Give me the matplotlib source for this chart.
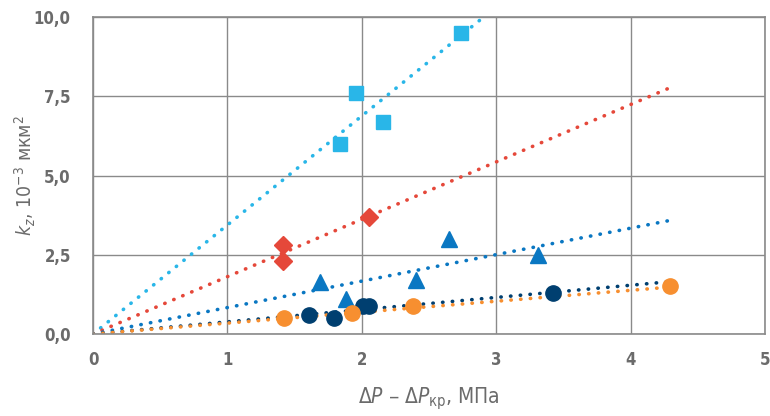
import numpy as np
import matplotlib.pyplot as plt

plt.rcParams['font.family'] = ['DejaVu Sans']
plt.rcParams['font.stretch'] = 'condensed'

# данные серий (ΔP - ΔPкр, kz)
sq_x = [1.84, 1.96, 2.16, 2.74]
sq_y = [6.0, 7.6, 6.7, 9.5]
dm_x = [1.41, 1.41, 2.05]
dm_y = [2.8, 2.3, 3.7]
tr_x = [1.69, 1.88, 2.40, 2.65, 3.31]
tr_y = [1.65, 1.1, 1.7, 3.0, 2.5]
nv_x = [1.61, 1.79, 2.01, 2.05, 3.42]
nv_y = [0.6, 0.5, 0.88, 0.88, 1.3]
or_x = [1.42, 1.93, 2.38, 4.29]
or_y = [0.5, 0.65, 0.87, 1.5]

# наклоны линий тренда (через 0) и их концы
slopes = [3.44, 1.81, 0.835, 0.385, 0.345]
ends = [3.0, 4.28, 4.28, 4.28, 4.28]

colors = ['#29b6e8', '#e5483a', '#0a77c2', '#003f70', '#f78f30']
markers = ['s', 'D', '^', 'o', 'o']
sizes = [10.5, 9, 11, 11, 11]
series = [(sq_x, sq_y), (dm_x, dm_y), (tr_x, tr_y), (nv_x, nv_y), (or_x, or_y)]

fig = plt.figure(figsize=(7.7, 4.16), dpi=100)
ax = fig.add_axes([0.1208, 0.197, 0.8727, 0.762])

for (x, y), k, e, c, m, s in zip(series, slopes, ends, colors, markers, sizes):
    xx = np.array([0, e])
    ax.plot(xx, k * xx, color=c, lw=2.6, linestyle=(0, (0.1, 2.6)),
            dash_capstyle='round', zorder=2)
    ax.plot(x, y, linestyle='none', marker=m, ms=s, color=c, mec=c, zorder=3)

ax.set_xlim(0, 5)
ax.set_ylim(0, 10)
ax.set_xticks([0, 1, 2, 3, 4, 5])
ax.set_xticklabels(['0', '1', '2', '3', '4', '5'])
ax.set_yticks([0, 2.5, 5, 7.5, 10])
ax.set_yticklabels(['0,0', '2,5', '5,0', '7,5', '10,0'])
ax.grid(True, color='#8a8a8a', lw=1)
ax.set_axisbelow(True)
for sp in ax.spines.values():
    sp.set_color('#8a8a8a')
    sp.set_linewidth(1.2)
ax.tick_params(length=0, labelsize=12, colors='#6b6b6b')
ax.tick_params(axis='y', pad=16)
ax.tick_params(axis='x', pad=12)
for lab in ax.get_xticklabels() + ax.get_yticklabels():
    lab.set_fontweight('bold')

ax.set_ylabel(r'$k_z$, 10$^{-3}$ мкм$^2$', fontsize=14, color='#6b6b6b')
ax.yaxis.set_label_coords(-0.082, 0.5)
ax.set_xlabel(r'$\Delta P$ – $\Delta P_{\mathregular{кр}}$, МПа', fontsize=15,
              color='#6b6b6b', labelpad=12)

fig.savefig('out.png', dpi=100)
